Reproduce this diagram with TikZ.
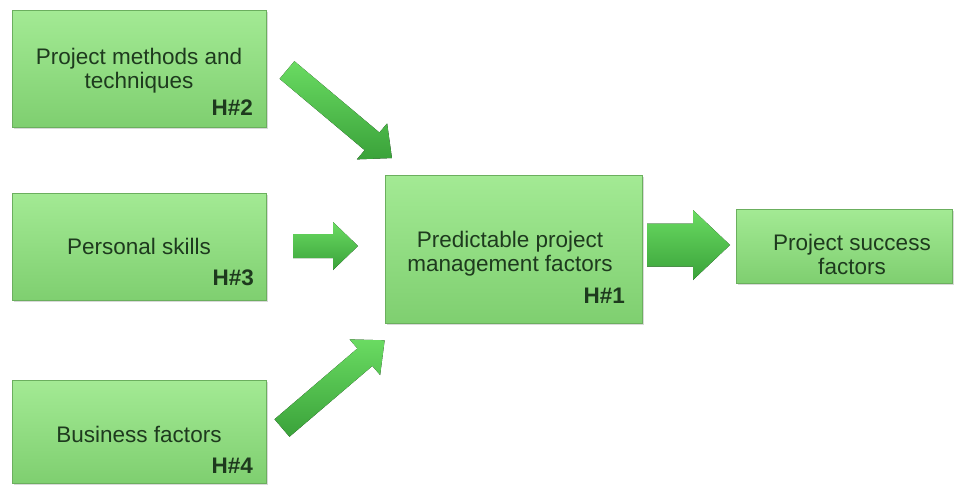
\documentclass[tikz,border=0pt]{standalone}
\usepackage{fontspec}
\setmainfont{Liberation Sans}
\usetikzlibrary{shadows}
\definecolor{boxtop}{HTML}{A3EA94}
\definecolor{boxbot}{HTML}{7FCF70}
\definecolor{boxline}{HTML}{6BAF5E}
\definecolor{arrtop}{HTML}{6ADB62}
\definecolor{arrbot}{HTML}{3AA23A}
\definecolor{txt}{HTML}{1E3A1E}
\tikzset{
  box/.style={draw=boxline, line width=0.6pt, top color=boxtop, bottom color=boxbot,
    inner sep=0pt, drop shadow={shadow xshift=1.5pt, shadow yshift=-2pt, opacity=0.3}},
  lbl/.style={text=txt, font=\fontsize{22.5}{24}\selectfont, align=center, inner sep=0pt},
  hnum/.style={text=txt, font=\fontsize{22.5}{24}\selectfont\bfseries, anchor=base east, inner sep=0pt},
  arrowfill/.style={top color=arrtop, bottom color=arrbot, draw=none},
  pics/barrow/.style n args={4}{code={
    \fill[arrowfill] (0,-#2) -- (#1-#4,-#2) -- (#1-#4,-#3) -- (#1,0) -- (#1-#4,#3)
      -- (#1-#4,#2) -- (0,#2) -- cycle;
  }}
}
\begin{document}
\begin{tikzpicture}[x=1pt,y=-1pt]
\useasboundingbox (0,0) rectangle (959,485);

% boxes
\node[box, minimum width=254pt, minimum height=117pt] (methods) at (139,68.5) {};
\node[box, minimum width=254pt, minimum height=107pt] (skills) at (139,246.5) {};
\node[box, minimum width=254pt, minimum height=103pt] (business) at (139,431.5) {};
\node[box, minimum width=257pt, minimum height=148pt] (pred) at (513.5,249) {};
\node[box, minimum width=216pt, minimum height=74pt] (success) at (844,246) {};

% texts
\node[lbl] (tmethods) at (139,71) {Project methods and\\techniques};
\node[lbl] (tskills) at (139,246) {Personal skills};
\node[lbl] (tbusiness) at (139,434) {Business factors};
\node[lbl] (tpred) at (510,254) {Predictable project\\management factors};
\node[lbl] (tsuccess) at (852,254) {Project success\\factors};

\node[hnum] (h2) at (253,115) {H\#2};
\node[hnum] (h3) at (254,285) {H\#3};
\node[hnum] (h4) at (253,473) {H\#4};
\node[hnum] (h1) at (625,303) {H\#1};

% arrow anchors
\coordinate (a2) at (287,70);
\coordinate (a3) at (293,246);
\coordinate (a4) at (282,428);
\coordinate (a1) at (647,245);

\pic[rotate=-40] at (a2) {barrow={137}{11.5}{23.5}{26}};
\pic at (a3) {barrow={65}{12}{24}{25}};
\pic[rotate=40.5] at (a4) {barrow={135}{11.5}{23.5}{26}};
\pic at (a1) {barrow={83}{21.5}{35}{37}};
\end{tikzpicture}
\end{document}
